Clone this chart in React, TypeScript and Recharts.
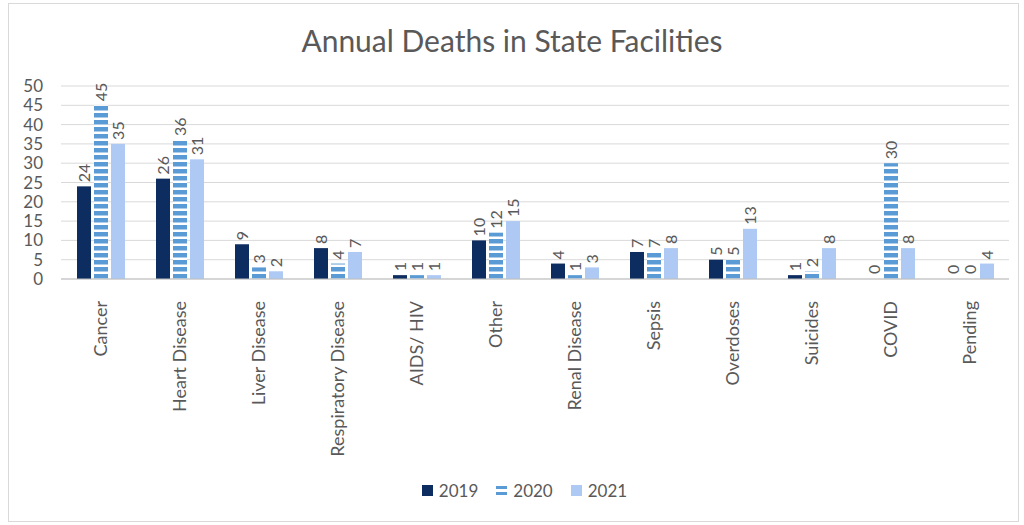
import { BarChart, Bar, XAxis, YAxis, CartesianGrid, Legend, LabelList } from "recharts";

const CATEGORIES = [
  "Cancer",
  "Heart Disease",
  "Liver Disease",
  "Respiratory Disease",
  "AIDS/ HIV",
  "Other",
  "Renal Disease",
  "Sepsis",
  "Overdoses",
  "Suicides",
  "COVID",
  "Pending",
];
const DEATHS_2019 = [24, 26, 9, 8, 1, 10, 4, 7, 5, 1, 0, 0];
const DEATHS_2020 = [45, 36, 3, 4, 1, 12, 1, 7, 5, 2, 30, 0];
const DEATHS_2021 = [35, 31, 2, 7, 1, 15, 3, 8, 13, 8, 8, 4];
const Y_TICKS = [0, 5, 10, 15, 20, 25, 30, 35, 40, 45, 50];

const SERIES = [
  { key: "y2019", name: "2019", color: "#0D2C5F", fill: "#0D2C5F" },
  { key: "y2020", name: "2020", color: "#5B9BD5", fill: "url(#stripes2020)" },
  { key: "y2021", name: "2021", color: "#ADC9F4", fill: "#ADC9F4" },
];

const data = CATEGORIES.map((name, i) => ({
  name,
  y2019: DEATHS_2019[i],
  y2020: DEATHS_2020[i],
  y2021: DEATHS_2021[i],
}));

const FONT = "Lato, 'Open Sans', sans-serif";
const TEXT = "#595959";

function CategoryTick(props: any) {
  const { x, y, payload } = props;
  const ty = y + 14;
  return (
    <text
      x={x}
      y={ty}
      transform={`rotate(-90, ${x}, ${ty})`}
      textAnchor="end"
      dy="0.35em"
      fill={TEXT}
      fontSize={18}
      fontFamily={FONT}
    >
      {payload.value}
    </text>
  );
}

function ValueLabel(props: any) {
  const { x, y, width, value } = props;
  const cx = x + width / 2;
  const ty = y - 4;
  return (
    <text
      x={cx}
      y={ty}
      transform={`rotate(-90, ${cx}, ${ty})`}
      textAnchor="start"
      dy="0.35em"
      fill={TEXT}
      fontSize={16}
      fontFamily={FONT}
    >
      {value}
    </text>
  );
}

// zero values get a tiny min size so their labels still render; draw nothing for them
function BarShape(props: any) {
  const { x, y, width, height, fill } = props;
  if (!height || Math.abs(height) < 1.5) return <g />;
  return <rect x={x} y={y} width={width} height={height} fill={fill} />;
}

function LegendContent() {
  return (
    <div
      style={{
        display: "flex",
        justifyContent: "center",
        gap: 18,
        paddingLeft: 25,
        fontFamily: FONT,
        fontSize: 17,
        color: TEXT,
      }}
    >
      {SERIES.map((s) => (
        <div key={s.key} style={{ display: "flex", alignItems: "center", gap: 6 }}>
          {s.key === "y2020" ? (
            <svg width={11} height={11}>
              <rect x={0} y={1} width={11} height={3} fill={s.color} />
              <rect x={0} y={7} width={11} height={3} fill={s.color} />
            </svg>
          ) : (
            <span style={{ display: "inline-block", width: 11, height: 11, background: s.color }} />
          )}
          <span>{s.name}</span>
        </div>
      ))}
    </div>
  );
}

export default function App() {
  return (
    <div style={{ position: "absolute", left: 0, top: 0, width: 1024, height: 525, background: "#fff" }}>
      <div
        style={{
          position: "absolute",
          left: 8,
          top: 3,
          width: 1009,
          height: 517,
          border: "1px solid #d9d9d9",
        }}
      />
      <div
        style={{
          position: "absolute",
          left: 0,
          top: 22,
          width: 1024,
          textAlign: "center",
          fontFamily: FONT,
          fontSize: 30,
          lineHeight: "36px",
          color: TEXT,
        }}
      >
        Annual Deaths in State Facilities
      </div>
      <div style={{ position: "absolute", left: 0, top: 0 }}>
        <BarChart
          width={1024}
          height={525}
          data={data}
          margin={{ top: 86, right: 15, left: 0, bottom: 57 }}
          barCategoryGap="19%"
          barGap={3}
        >
          <defs>
            <pattern id="stripes2020" patternUnits="userSpaceOnUse" width={14} height={7}>
              <rect x={0} y={0} width={14} height={7} fill="#fff" />
              <rect x={0} y={1} width={14} height={4.5} fill="#5B9BD5" />
            </pattern>
          </defs>
          <CartesianGrid vertical={false} stroke="#d9d9d9" />
          <XAxis
            dataKey="name"
            interval={0}
            height={168}
            tickLine={false}
            axisLine={{ stroke: "#bfbfbf" }}
            tick={<CategoryTick />}
          />
          <YAxis
            width={61}
            domain={[0, 50]}
            ticks={Y_TICKS}
            interval={0}
            tickLine={false}
            axisLine={false}
            tickMargin={12}
            tick={{ fill: TEXT, fontSize: 17, fontFamily: FONT }}
          />
          <Legend
            content={<LegendContent />}
            wrapperStyle={{ position: "absolute", top: 480, left: 0, width: 1024 }}
          />
          {SERIES.map((s) => (
            <Bar
              key={s.key}
              dataKey={s.key}
              name={s.name}
              fill={s.fill}
              barSize={14}
              minPointSize={(v: number) => (v === 0 ? 1 : 0)}
              shape={<BarShape />}
              isAnimationActive={false}
            >
              <LabelList dataKey={s.key} content={<ValueLabel />} />
            </Bar>
          ))}
        </BarChart>
      </div>
    </div>
  );
}
